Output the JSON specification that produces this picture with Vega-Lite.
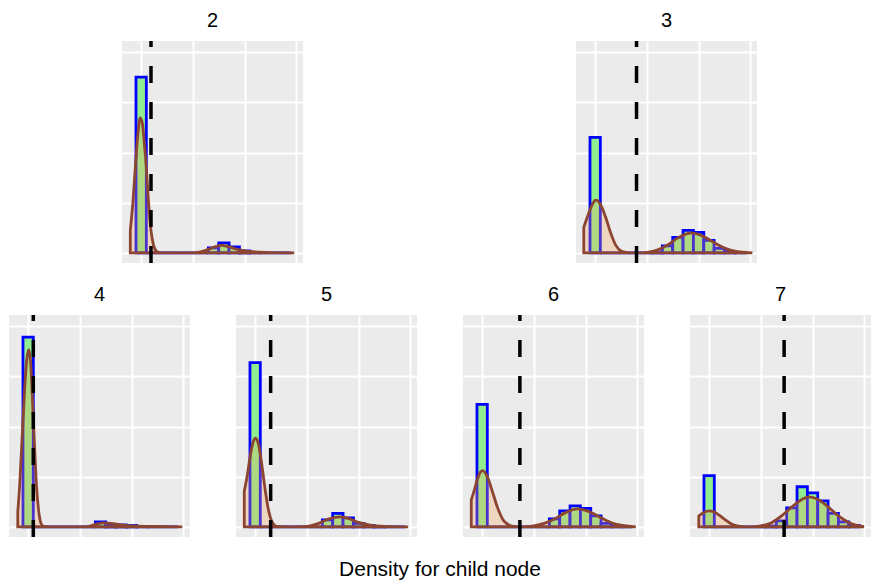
{
  "$schema": "https://vega.github.io/schema/vega-lite/v6.json",
  "padding": {"left": 9, "top": 11, "right": 5, "bottom": 5},
  "data": {"values": [
    {"panel":2,"kind":"hist","x0":-0.1,"x1":0.1,"h":3.5},{"panel":2,"kind":"hist","x0":0.1,"x1":0.3,"h":0},{"panel":2,"kind":"hist","x0":0.3,"x1":0.5,"h":0},{"panel":2,"kind":"hist","x0":0.5,"x1":0.7,"h":0},{"panel":2,"kind":"hist","x0":0.7,"x1":0.9,"h":0},{"panel":2,"kind":"hist","x0":0.9,"x1":1.1,"h":0},{"panel":2,"kind":"hist","x0":1.1,"x1":1.3,"h":0},{"panel":2,"kind":"hist","x0":1.3,"x1":1.5,"h":0.1},{"panel":2,"kind":"hist","x0":1.5,"x1":1.7,"h":0.2},{"panel":2,"kind":"hist","x0":1.7,"x1":1.9,"h":0.12},{"panel":2,"kind":"hist","x0":1.9,"x1":2.1,"h":0.04},{"panel":2,"kind":"hist","x0":2.1,"x1":2.3,"h":0.01},{"panel":2,"kind":"hist","x0":2.3,"x1":2.5,"h":0},{"panel":2,"kind":"hist","x0":2.5,"x1":2.7,"h":0},{"panel":2,"kind":"hist","x0":2.7,"x1":2.9,"h":0},
    {"panel":3,"kind":"hist","x0":-0.1,"x1":0.1,"h":2.3},{"panel":3,"kind":"hist","x0":0.1,"x1":0.3,"h":0},{"panel":3,"kind":"hist","x0":0.3,"x1":0.5,"h":0},{"panel":3,"kind":"hist","x0":0.5,"x1":0.7,"h":0},{"panel":3,"kind":"hist","x0":0.7,"x1":0.9,"h":0},{"panel":3,"kind":"hist","x0":0.9,"x1":1.1,"h":0},{"panel":3,"kind":"hist","x0":1.1,"x1":1.3,"h":0.02},{"panel":3,"kind":"hist","x0":1.3,"x1":1.5,"h":0.14},{"panel":3,"kind":"hist","x0":1.5,"x1":1.7,"h":0.31},{"panel":3,"kind":"hist","x0":1.7,"x1":1.9,"h":0.45},{"panel":3,"kind":"hist","x0":1.9,"x1":2.1,"h":0.41},{"panel":3,"kind":"hist","x0":2.1,"x1":2.3,"h":0.25},{"panel":3,"kind":"hist","x0":2.3,"x1":2.5,"h":0.09},{"panel":3,"kind":"hist","x0":2.5,"x1":2.7,"h":0.03},{"panel":3,"kind":"hist","x0":2.7,"x1":2.9,"h":0.01},
    {"panel":4,"kind":"hist","x0":-0.1,"x1":0.1,"h":3.78},{"panel":4,"kind":"hist","x0":0.1,"x1":0.3,"h":0},{"panel":4,"kind":"hist","x0":0.3,"x1":0.5,"h":0},{"panel":4,"kind":"hist","x0":0.5,"x1":0.7,"h":0},{"panel":4,"kind":"hist","x0":0.7,"x1":0.9,"h":0},{"panel":4,"kind":"hist","x0":0.9,"x1":1.1,"h":0},{"panel":4,"kind":"hist","x0":1.1,"x1":1.3,"h":0},{"panel":4,"kind":"hist","x0":1.3,"x1":1.5,"h":0.1},{"panel":4,"kind":"hist","x0":1.5,"x1":1.7,"h":0.05},{"panel":4,"kind":"hist","x0":1.7,"x1":1.9,"h":0.04},{"panel":4,"kind":"hist","x0":1.9,"x1":2.1,"h":0.03},{"panel":4,"kind":"hist","x0":2.1,"x1":2.3,"h":0.01},{"panel":4,"kind":"hist","x0":2.3,"x1":2.5,"h":0},{"panel":4,"kind":"hist","x0":2.5,"x1":2.7,"h":0},{"panel":4,"kind":"hist","x0":2.7,"x1":2.9,"h":0},
    {"panel":5,"kind":"hist","x0":-0.1,"x1":0.1,"h":3.27},{"panel":5,"kind":"hist","x0":0.1,"x1":0.3,"h":0},{"panel":5,"kind":"hist","x0":0.3,"x1":0.5,"h":0},{"panel":5,"kind":"hist","x0":0.5,"x1":0.7,"h":0},{"panel":5,"kind":"hist","x0":0.7,"x1":0.9,"h":0},{"panel":5,"kind":"hist","x0":0.9,"x1":1.1,"h":0},{"panel":5,"kind":"hist","x0":1.1,"x1":1.3,"h":0},{"panel":5,"kind":"hist","x0":1.3,"x1":1.5,"h":0.14},{"panel":5,"kind":"hist","x0":1.5,"x1":1.7,"h":0.27},{"panel":5,"kind":"hist","x0":1.7,"x1":1.9,"h":0.18},{"panel":5,"kind":"hist","x0":1.9,"x1":2.1,"h":0.07},{"panel":5,"kind":"hist","x0":2.1,"x1":2.3,"h":0.03},{"panel":5,"kind":"hist","x0":2.3,"x1":2.5,"h":0.01},{"panel":5,"kind":"hist","x0":2.5,"x1":2.7,"h":0},{"panel":5,"kind":"hist","x0":2.7,"x1":2.9,"h":0},
    {"panel":6,"kind":"hist","x0":-0.1,"x1":0.1,"h":2.44},{"panel":6,"kind":"hist","x0":0.1,"x1":0.3,"h":0},{"panel":6,"kind":"hist","x0":0.3,"x1":0.5,"h":0},{"panel":6,"kind":"hist","x0":0.5,"x1":0.7,"h":0},{"panel":6,"kind":"hist","x0":0.7,"x1":0.9,"h":0},{"panel":6,"kind":"hist","x0":0.9,"x1":1.1,"h":0},{"panel":6,"kind":"hist","x0":1.1,"x1":1.3,"h":0},{"panel":6,"kind":"hist","x0":1.3,"x1":1.5,"h":0.16},{"panel":6,"kind":"hist","x0":1.5,"x1":1.7,"h":0.32},{"panel":6,"kind":"hist","x0":1.7,"x1":1.9,"h":0.42},{"panel":6,"kind":"hist","x0":1.9,"x1":2.1,"h":0.37},{"panel":6,"kind":"hist","x0":2.1,"x1":2.3,"h":0.22},{"panel":6,"kind":"hist","x0":2.3,"x1":2.5,"h":0.07},{"panel":6,"kind":"hist","x0":2.5,"x1":2.7,"h":0.02},{"panel":6,"kind":"hist","x0":2.7,"x1":2.9,"h":0},
    {"panel":7,"kind":"hist","x0":-0.1,"x1":0.1,"h":1.02},{"panel":7,"kind":"hist","x0":0.1,"x1":0.3,"h":0},{"panel":7,"kind":"hist","x0":0.3,"x1":0.5,"h":0},{"panel":7,"kind":"hist","x0":0.5,"x1":0.7,"h":0},{"panel":7,"kind":"hist","x0":0.7,"x1":0.9,"h":0},{"panel":7,"kind":"hist","x0":0.9,"x1":1.1,"h":0},{"panel":7,"kind":"hist","x0":1.1,"x1":1.3,"h":0.02},{"panel":7,"kind":"hist","x0":1.3,"x1":1.5,"h":0.12},{"panel":7,"kind":"hist","x0":1.5,"x1":1.7,"h":0.38},{"panel":7,"kind":"hist","x0":1.7,"x1":1.9,"h":0.8},{"panel":7,"kind":"hist","x0":1.9,"x1":2.1,"h":0.68},{"panel":7,"kind":"hist","x0":2.1,"x1":2.3,"h":0.52},{"panel":7,"kind":"hist","x0":2.3,"x1":2.5,"h":0.27},{"panel":7,"kind":"hist","x0":2.5,"x1":2.7,"h":0.1},{"panel":7,"kind":"hist","x0":2.7,"x1":2.9,"h":0.03},

    {"panel":2,"kind":"dens","x":-0.21,"d":0.45},{"panel":2,"kind":"dens","x":-0.16,"d":1.0},{"panel":2,"kind":"dens","x":-0.11,"d":1.75},{"panel":2,"kind":"dens","x":-0.06,"d":2.4},{"panel":2,"kind":"dens","x":-0.02,"d":2.69},{"panel":2,"kind":"dens","x":0.02,"d":2.6},{"panel":2,"kind":"dens","x":0.06,"d":2.2},{"panel":2,"kind":"dens","x":0.1,"d":1.7},{"panel":2,"kind":"dens","x":0.14,"d":1.05},{"panel":2,"kind":"dens","x":0.19,"d":0.45},{"panel":2,"kind":"dens","x":0.24,"d":0.15},{"panel":2,"kind":"dens","x":0.3,"d":0.03},{"panel":2,"kind":"dens","x":0.4,"d":0.0},{"panel":2,"kind":"dens","x":0.9,"d":0.0},{"panel":2,"kind":"dens","x":1.1,"d":0.01},{"panel":2,"kind":"dens","x":1.3,"d":0.07},{"panel":2,"kind":"dens","x":1.45,"d":0.13},{"panel":2,"kind":"dens","x":1.55,"d":0.15},{"panel":2,"kind":"dens","x":1.7,"d":0.12},{"panel":2,"kind":"dens","x":1.9,"d":0.06},{"panel":2,"kind":"dens","x":2.1,"d":0.03},{"panel":2,"kind":"dens","x":2.4,"d":0.01},{"panel":2,"kind":"dens","x":2.96,"d":0.0},
    {"panel":3,"kind":"dens","x":-0.22,"d":0.51},{"panel":3,"kind":"dens","x":-0.15,"d":0.72},{"panel":3,"kind":"dens","x":-0.1,"d":0.86},{"panel":3,"kind":"dens","x":-0.05,"d":0.98},{"panel":3,"kind":"dens","x":0.02,"d":1.05},{"panel":3,"kind":"dens","x":0.1,"d":0.97},{"panel":3,"kind":"dens","x":0.2,"d":0.72},{"panel":3,"kind":"dens","x":0.3,"d":0.4},{"panel":3,"kind":"dens","x":0.4,"d":0.15},{"panel":3,"kind":"dens","x":0.5,"d":0.04},{"panel":3,"kind":"dens","x":0.6,"d":0.01},{"panel":3,"kind":"dens","x":0.8,"d":0.0},{"panel":3,"kind":"dens","x":1.0,"d":0.01},{"panel":3,"kind":"dens","x":1.2,"d":0.06},{"panel":3,"kind":"dens","x":1.4,"d":0.16},{"panel":3,"kind":"dens","x":1.6,"d":0.3},{"panel":3,"kind":"dens","x":1.8,"d":0.39},{"panel":3,"kind":"dens","x":1.86,"d":0.4},{"panel":3,"kind":"dens","x":2.0,"d":0.37},{"panel":3,"kind":"dens","x":2.2,"d":0.27},{"panel":3,"kind":"dens","x":2.4,"d":0.15},{"panel":3,"kind":"dens","x":2.6,"d":0.06},{"panel":3,"kind":"dens","x":2.8,"d":0.02},{"panel":3,"kind":"dens","x":3.04,"d":0.0},
    {"panel":4,"kind":"dens","x":-0.2,"d":0.3},{"panel":4,"kind":"dens","x":-0.16,"d":0.9},{"panel":4,"kind":"dens","x":-0.12,"d":1.7},{"panel":4,"kind":"dens","x":-0.07,"d":2.7},{"panel":4,"kind":"dens","x":-0.03,"d":3.3},{"panel":4,"kind":"dens","x":0.01,"d":3.53},{"panel":4,"kind":"dens","x":0.05,"d":3.25},{"panel":4,"kind":"dens","x":0.09,"d":2.4},{"panel":4,"kind":"dens","x":0.12,"d":1.7},{"panel":4,"kind":"dens","x":0.16,"d":0.85},{"panel":4,"kind":"dens","x":0.2,"d":0.35},{"panel":4,"kind":"dens","x":0.25,"d":0.07},{"panel":4,"kind":"dens","x":0.3,"d":0.01},{"panel":4,"kind":"dens","x":0.4,"d":0.0},{"panel":4,"kind":"dens","x":1.1,"d":0.0},{"panel":4,"kind":"dens","x":1.3,"d":0.05},{"panel":4,"kind":"dens","x":1.45,"d":0.08},{"panel":4,"kind":"dens","x":1.6,"d":0.07},{"panel":4,"kind":"dens","x":1.8,"d":0.04},{"panel":4,"kind":"dens","x":2.0,"d":0.02},{"panel":4,"kind":"dens","x":2.4,"d":0.01},{"panel":4,"kind":"dens","x":2.98,"d":0.0},
    {"panel":5,"kind":"dens","x":-0.21,"d":0.71},{"panel":5,"kind":"dens","x":-0.15,"d":1.04},{"panel":5,"kind":"dens","x":-0.1,"d":1.38},{"panel":5,"kind":"dens","x":-0.05,"d":1.65},{"panel":5,"kind":"dens","x":0.0,"d":1.77},{"panel":5,"kind":"dens","x":0.05,"d":1.7},{"panel":5,"kind":"dens","x":0.1,"d":1.45},{"panel":5,"kind":"dens","x":0.15,"d":1.08},{"panel":5,"kind":"dens","x":0.2,"d":0.7},{"panel":5,"kind":"dens","x":0.25,"d":0.38},{"panel":5,"kind":"dens","x":0.3,"d":0.17},{"panel":5,"kind":"dens","x":0.35,"d":0.06},{"panel":5,"kind":"dens","x":0.42,"d":0.01},{"panel":5,"kind":"dens","x":0.6,"d":0.0},{"panel":5,"kind":"dens","x":1.0,"d":0.01},{"panel":5,"kind":"dens","x":1.2,"d":0.06},{"panel":5,"kind":"dens","x":1.4,"d":0.15},{"panel":5,"kind":"dens","x":1.64,"d":0.2},{"panel":5,"kind":"dens","x":1.8,"d":0.17},{"panel":5,"kind":"dens","x":2.0,"d":0.09},{"panel":5,"kind":"dens","x":2.2,"d":0.04},{"panel":5,"kind":"dens","x":2.5,"d":0.01},{"panel":5,"kind":"dens","x":2.96,"d":0.0},
    {"panel":6,"kind":"dens","x":-0.21,"d":0.54},{"panel":6,"kind":"dens","x":-0.15,"d":0.74},{"panel":6,"kind":"dens","x":-0.1,"d":0.92},{"panel":6,"kind":"dens","x":-0.05,"d":1.06},{"panel":6,"kind":"dens","x":0.01,"d":1.12},{"panel":6,"kind":"dens","x":0.1,"d":1.0},{"panel":6,"kind":"dens","x":0.2,"d":0.7},{"panel":6,"kind":"dens","x":0.3,"d":0.38},{"panel":6,"kind":"dens","x":0.4,"d":0.15},{"panel":6,"kind":"dens","x":0.5,"d":0.05},{"panel":6,"kind":"dens","x":0.6,"d":0.01},{"panel":6,"kind":"dens","x":0.8,"d":0.0},{"panel":6,"kind":"dens","x":1.0,"d":0.02},{"panel":6,"kind":"dens","x":1.2,"d":0.07},{"panel":6,"kind":"dens","x":1.4,"d":0.16},{"panel":6,"kind":"dens","x":1.6,"d":0.28},{"panel":6,"kind":"dens","x":1.84,"d":0.36},{"panel":6,"kind":"dens","x":2.0,"d":0.33},{"panel":6,"kind":"dens","x":2.2,"d":0.24},{"panel":6,"kind":"dens","x":2.4,"d":0.13},{"panel":6,"kind":"dens","x":2.6,"d":0.05},{"panel":6,"kind":"dens","x":2.8,"d":0.02},{"panel":6,"kind":"dens","x":2.97,"d":0.0},
    {"panel":7,"kind":"dens","x":-0.2,"d":0.22},{"panel":7,"kind":"dens","x":-0.1,"d":0.29},{"panel":7,"kind":"dens","x":-0.01,"d":0.32},{"panel":7,"kind":"dens","x":0.1,"d":0.3},{"panel":7,"kind":"dens","x":0.2,"d":0.23},{"panel":7,"kind":"dens","x":0.3,"d":0.15},{"panel":7,"kind":"dens","x":0.4,"d":0.08},{"panel":7,"kind":"dens","x":0.5,"d":0.03},{"panel":7,"kind":"dens","x":0.6,"d":0.01},{"panel":7,"kind":"dens","x":0.8,"d":0.0},{"panel":7,"kind":"dens","x":1.0,"d":0.02},{"panel":7,"kind":"dens","x":1.2,"d":0.08},{"panel":7,"kind":"dens","x":1.4,"d":0.22},{"panel":7,"kind":"dens","x":1.6,"d":0.4},{"panel":7,"kind":"dens","x":1.8,"d":0.55},{"panel":7,"kind":"dens","x":1.93,"d":0.6},{"panel":7,"kind":"dens","x":2.1,"d":0.55},{"panel":7,"kind":"dens","x":2.3,"d":0.4},{"panel":7,"kind":"dens","x":2.5,"d":0.22},{"panel":7,"kind":"dens","x":2.7,"d":0.09},{"panel":7,"kind":"dens","x":2.9,"d":0.02},{"panel":7,"kind":"dens","x":2.97,"d":0.01},

    {"panel":2,"kind":"vline","v":0.19},{"panel":3,"kind":"vline","v":0.8},{"panel":4,"kind":"vline","v":0.1},{"panel":5,"kind":"vline","v":0.3},{"panel":6,"kind":"vline","v":0.73},{"panel":7,"kind":"vline","v":1.45}
  ]},
  "vconcat": [
    {
      "transform": [{"filter": "datum.panel <= 3"}],
      "facet": {"column": {"field": "panel", "type": "ordinal", "header": {"title": null, "labelFontSize": 20, "labelFont": "Liberation Sans", "labelColor": "#000000", "labelPadding": 8}}},
      "spacing": 272,
      "spec": {
        "width": 181, "height": 222,
        "layer": [
          {"transform": [{"filter": "datum.kind === 'hist'"}],
           "mark": {"type": "bar", "fill": "#90EE90", "stroke": "#0000FF", "strokeWidth": 2.8},
           "encoding": {
             "x": {"field": "x0", "type": "quantitative", "scale": {"domain": [-0.37, 3.13], "nice": false, "zero": false}, "axis": {"values": [0, 0.5, 1, 1.5, 2, 2.5, 3], "gridWidth": {"condition": {"test": "datum.value % 1 === 0", "value": 2}, "value": 1}}},
             "x2": {"field": "x1"},
             "y": {"field": "h", "type": "quantitative", "scale": {"domain": [-0.2, 4.22], "nice": false, "zero": false}, "axis": {"values": [0, 0.5, 1, 1.5, 2, 2.5, 3, 3.5, 4], "gridWidth": {"condition": {"test": "datum.value % 1 === 0", "value": 2}, "value": 1}}},
             "y2": {"datum": 0}
           }},
          {"transform": [{"filter": "datum.kind === 'dens'"}],
           "mark": {"type": "area", "fill": "#F4A460", "fillOpacity": 0.3, "stroke": "#8B4530", "strokeWidth": 2.8, "interpolate": "monotone"},
           "encoding": {
             "x": {"field": "x", "type": "quantitative"},
             "y": {"field": "d", "type": "quantitative"},
             "y2": {"datum": 0}
           }},
          {"transform": [{"filter": "datum.kind === 'vline'"}],
           "mark": {"type": "rule", "color": "#000000", "strokeWidth": 3.5, "strokeDash": [17, 19]},
           "encoding": {
             "x": {"field": "v", "type": "quantitative"},
             "y": {"datum": -0.2},
             "y2": {"datum": 4.22}
           }}
        ]
      }
    },
    {
      "transform": [{"filter": "datum.panel >= 4"}],
      "facet": {"column": {"field": "panel", "type": "ordinal", "header": {"title": null, "labelFontSize": 20, "labelFont": "Liberation Sans", "labelColor": "#000000", "labelPadding": 8}}},
      "spacing": 46,
      "spec": {
        "width": 181, "height": 222,
        "layer": [
          {"transform": [{"filter": "datum.kind === 'hist'"}],
           "mark": {"type": "bar", "fill": "#90EE90", "stroke": "#0000FF", "strokeWidth": 2.8},
           "encoding": {
             "x": {"field": "x0", "type": "quantitative", "scale": {"domain": [-0.37, 3.13], "nice": false, "zero": false}, "axis": {"values": [0, 0.5, 1, 1.5, 2, 2.5, 3], "gridWidth": {"condition": {"test": "datum.value % 1 === 0", "value": 2}, "value": 1}}},
             "x2": {"field": "x1"},
             "y": {"field": "h", "type": "quantitative", "scale": {"domain": [-0.2, 4.22], "nice": false, "zero": false}, "axis": {"values": [0, 0.5, 1, 1.5, 2, 2.5, 3, 3.5, 4], "gridWidth": {"condition": {"test": "datum.value % 1 === 0", "value": 2}, "value": 1}}},
             "y2": {"datum": 0}
           }},
          {"transform": [{"filter": "datum.kind === 'dens'"}],
           "mark": {"type": "area", "fill": "#F4A460", "fillOpacity": 0.3, "stroke": "#8B4530", "strokeWidth": 2.8, "interpolate": "monotone"},
           "encoding": {
             "x": {"field": "x", "type": "quantitative"},
             "y": {"field": "d", "type": "quantitative"},
             "y2": {"datum": 0}
           }},
          {"transform": [{"filter": "datum.kind === 'vline'"}],
           "mark": {"type": "rule", "color": "#000000", "strokeWidth": 3.5, "strokeDash": [17, 19]},
           "encoding": {
             "x": {"field": "v", "type": "quantitative"},
             "y": {"datum": -0.2},
             "y2": {"datum": 4.22}
           }}
        ]
      }
    }
  ],
  "center": true,
  "spacing": 20,
  "title": {"text": "Density for child node", "orient": "bottom", "anchor": "middle", "fontSize": 21, "fontWeight": "normal", "font": "Liberation Sans", "color": "#000000", "offset": 20},
  "config": {
    "view": {"fill": "#EBEBEB", "stroke": null},
    "axis": {"title": null, "labels": false, "ticks": false, "domain": false, "gridColor": "#FFFFFF", "gridOpacity": 1},
    "font": "Liberation Sans"
  }
}
